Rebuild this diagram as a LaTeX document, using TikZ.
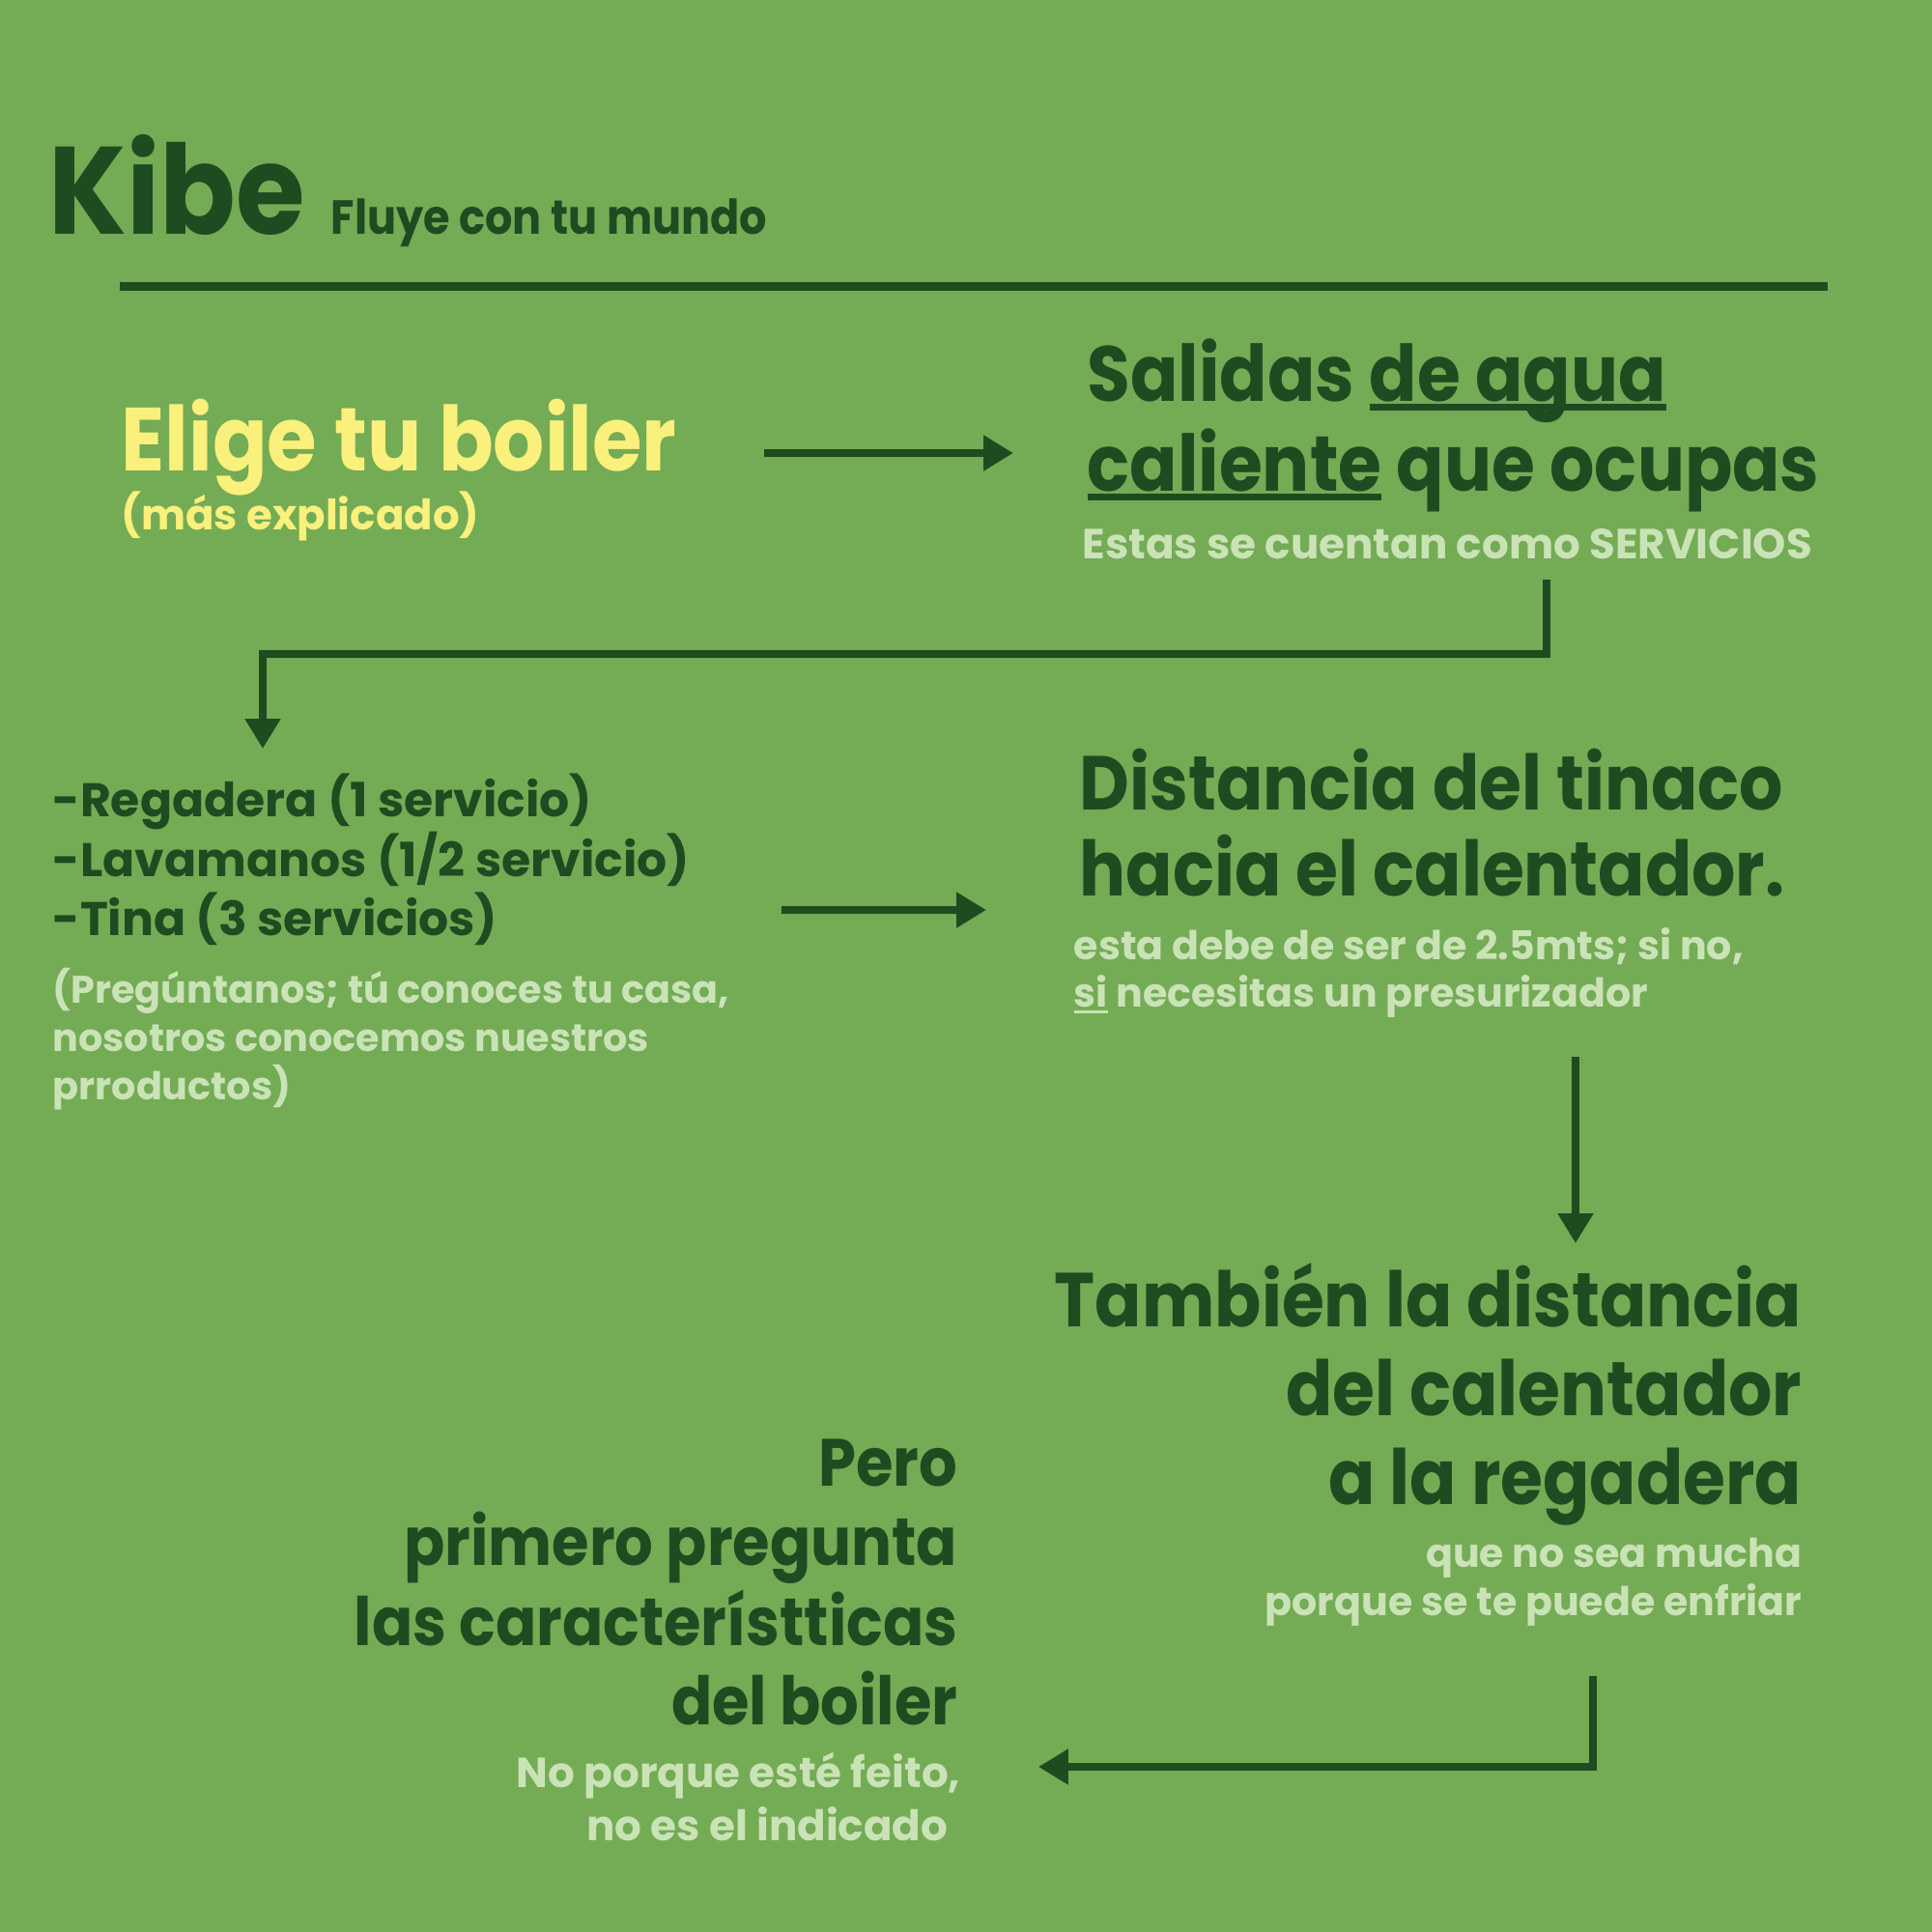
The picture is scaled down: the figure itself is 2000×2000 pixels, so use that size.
\documentclass[tikz,border=0pt]{standalone}
\usepackage{fontspec}
\setmainfont{Poppins}
\newfontfamily\angosta{Poppins}[FakeStretch=0.9]
\usepackage{xcolor}
\usetikzlibrary{positioning}
\usetikzlibrary{arrows.meta}

\definecolor{fondo}{HTML}{74AB55}
\definecolor{oscuro}{HTML}{1F4B21}
\definecolor{amarillo}{HTML}{FAF07C}
\definecolor{claro}{HTML}{C9E3B6}

% subrayado grueso
\newcommand{\subr}[3][0.127em]{\setbox0=\hbox{#3}\rlap{\rule[-#1]{\wd0}{#2}}\box0\relax}

\begin{document}
\begin{tikzpicture}[x=0.01cm,y=-0.01cm,
  txt/.style={inner sep=0,anchor=base west},
  der/.style={inner sep=0,anchor=base east},
  grande/.style={text=oscuro,font=\angosta\bfseries\fontsize{22.5}{26}\selectfont},
  medio/.style={text=oscuro,font=\angosta\bfseries\fontsize{19.7}{22}\selectfont},
  lista/.style={text=oscuro,font=\bfseries\fontsize{13.9}{16}\selectfont},
  nota/.style={text=claro,font=\bfseries\fontsize{11.7}{14}\selectfont},
  flecha/.style={draw=oscuro,line width=2.5pt,line join=miter,-{Triangle[length=8.8pt,width=10pt]}}]

\fill[fondo] (0,0) rectangle (2000,2000);

% encabezado
\node[txt,text=oscuro,font=\angosta\bfseries\fontsize{36.6}{40}\selectfont] (kibe) at (50,242) {Kibe};
\node[txt,text=oscuro,font=\angosta\bfseries\fontsize{14.1}{17}\selectfont] (lema) at (342,242) {Fluye con tu mundo};
\draw[oscuro,line width=2.56pt] (124,296.5) -- (1892,296.5);

% paso 1
\node[txt,text=amarillo,font=\angosta\bfseries\fontsize{26.4}{30}\selectfont] (elige) at (125,487) {Elige tu boiler};
\node[txt,text=amarillo,font=\bfseries\fontsize{12.35}{15}\selectfont] (mas) at (125,548) {(más explicado)};

% paso 2
\node[txt,grande,font=\angosta\bfseries\fontsize{23}{26}\selectfont] (sal1) at (1125,415) {Salidas \subr{0.09em}{de agua}};
\node[txt,grande,font=\angosta\bfseries\fontsize{23}{26}\selectfont] (sal2) at (1125,508) {\subr{0.09em}{caliente} que ocupas};
\node[txt,nota,font=\bfseries\fontsize{12.4}{14}\selectfont] (serv) at (1120,578) {Estas se cuentan como SERVICIOS};

% paso 3
\node[txt,lista] (reg) at (54,845) {-Regadera (1 servicio)};
\node[txt,lista] (lav) at (54,907) {-Lavamanos (1/2 servicio)};
\node[txt,lista] (tina) at (54,968) {-Tina (3 servicios)};
\node[txt,nota,font=\bfseries\fontsize{11.3}{14}\selectfont] (preg1) at (54,1038) {(Pregúntanos; tú conoces tu casa,};
\node[txt,nota,font=\bfseries\fontsize{11.3}{14}\selectfont] (preg2) at (54,1088) {nosotros conocemos nuestros};
\node[txt,nota,font=\bfseries\fontsize{11.3}{14}\selectfont] (preg3) at (54,1138) {prroductos)};

% paso 4
\node[txt,grande] (dist1) at (1117,838) {Distancia del tinaco};
\node[txt,grande] (dist2) at (1117,927) {hacia el calentador.};
\node[txt,nota] (esta1) at (1111,993) {esta debe de ser de 2.5mts; si no,};
\node[txt,nota] (esta2) at (1111,1042) {\subr[0.16em]{0.07em}{si} necesitas un presurizador};

% paso 5
\node[der,grande] (tamb1) at (1866,1373) {También la distancia};
\node[der,grande] (tamb2) at (1866,1465) {del calentador};
\node[der,grande] (tamb3) at (1866,1557) {a la regadera};
\node[der,nota] (mucha1) at (1866,1622) {que no sea mucha};
\node[der,nota] (mucha2) at (1866,1672) {porque se te puede enfriar};

% paso 6
\node[der,medio] (pero1) at (992,1538) {Pero};
\node[der,medio] (pero2) at (992,1620) {primero pregunta};
\node[der,medio] (pero3) at (992,1703) {las característticas};
\node[der,medio] (pero4) at (992,1785) {del boiler};
\node[der,nota,font=\bfseries\fontsize{12.4}{14}\selectfont] (feo1) at (995,1850) {No porque esté feito,};
\node[der,nota,font=\bfseries\fontsize{12.4}{14}\selectfont] (feo2) at (982,1905) {no es el indicado};

% conectores
\coordinate (a1) at (791,469);
\coordinate (b1) at (1049,469);
\coordinate (a2) at (1601,600);
\coordinate (b2) at (272,775);
\coordinate (a3) at (809,942);
\coordinate (b3) at (1021,942);
\coordinate (a4) at (1631,1094);
\coordinate (b4) at (1631,1287);
\coordinate (a5) at (1649,1735);
\coordinate (b5) at (1075,1829);

\draw[flecha] (a1) -- (b1);
\draw[flecha] (a2) |- (1000,677) -| (b2);
\draw[flecha] (a3) -- (b3);
\draw[flecha] (a4) -- (b4);
\draw[flecha] (a5) |- (b5);

\end{tikzpicture}
\end{document}
